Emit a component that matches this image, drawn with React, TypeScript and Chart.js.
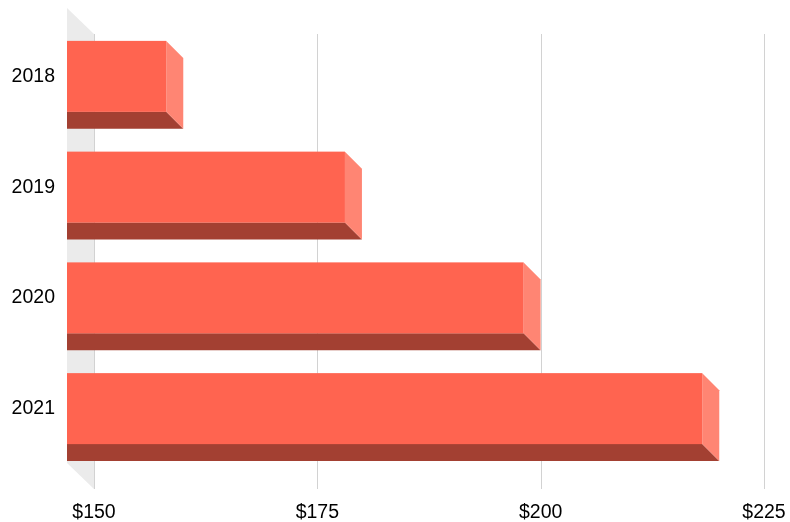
import React, { useEffect, useRef } from 'react';
import { Chart, registerables } from 'chart.js';

Chart.register(...registerables);

const categories = ['2018', '2019', '2020', '2021'];
const values = [161, 181, 201, 221];
const xTickValues = [150, 175, 200, 225];
const xMin = 150;
const xMax = 225;

const FRONT = '#FF6450';
const SIDE = '#FF8573';
const BOTTOM = '#A34032';
const WALL = '#EBEBEB';
const GRID = '#D2D2D2';
const DX = 27; // chart depth (x)
const BD = 17; // bar depth

const zeroPad = (scale: any) => {
  scale.paddingTop = 0;
  scale.paddingBottom = 0;
  scale.paddingLeft = 0;
  scale.paddingRight = 0;
};

const threeD = {
  id: 'threeD',
  beforeDatasetsDraw(chart: any) {
    const { ctx, chartArea } = chart;
    const x = chart.scales.x;
    const xl = x.getPixelForValue(xMin);
    ctx.save();
    ctx.fillStyle = WALL;
    ctx.beginPath();
    ctx.moveTo(xl - DX, chartArea.top - 13);
    ctx.lineTo(xl, chartArea.top + 13);
    ctx.lineTo(xl, chartArea.bottom + 25);
    ctx.lineTo(xl - DX, chartArea.bottom - 1);
    ctx.closePath();
    ctx.fill();
    ctx.strokeStyle = GRID;
    ctx.lineWidth = 1;
    xTickValues.forEach((t) => {
      const px = Math.round(x.getPixelForValue(t)) + 0.5;
      ctx.beginPath();
      ctx.moveTo(px, chartArea.top + 13);
      ctx.lineTo(px, chartArea.bottom + 25);
      ctx.stroke();
    });
    ctx.restore();
  },
  afterDatasetsDraw(chart: any) {
    const { ctx } = chart;
    const x = chart.scales.x;
    const meta = chart.getDatasetMeta(0);
    const base = x.getPixelForValue(xMin) - DX;
    ctx.save();
    meta.data.forEach((el: any, i: number) => {
      const { y, height } = el.getProps(['y', 'height'], true);
      const right = x.getPixelForValue(values[i]) - DX + 1;
      const top = y - height / 2;
      const bot = y + height / 2;
      // bottom face
      ctx.fillStyle = BOTTOM;
      ctx.beginPath();
      ctx.moveTo(base, bot);
      ctx.lineTo(right, bot);
      ctx.lineTo(right + BD, bot + BD);
      ctx.lineTo(base, bot + BD);
      ctx.closePath();
      ctx.fill();
      // side face
      ctx.fillStyle = SIDE;
      ctx.beginPath();
      ctx.moveTo(right, top);
      ctx.lineTo(right + BD, top + BD);
      ctx.lineTo(right + BD, bot + BD);
      ctx.lineTo(right, bot);
      ctx.closePath();
      ctx.fill();
      // front face
      ctx.fillStyle = FRONT;
      ctx.fillRect(base, top, right - base, bot - top);
    });
    ctx.restore();
  },
};

export default function App() {
  const ref = useRef<HTMLCanvasElement>(null);
  useEffect(() => {
    if (!ref.current) return;
    const font = { family: '"Liberation Sans", Arial, sans-serif', size: 19.5 };
    const chart = new Chart(ref.current, {
      type: 'bar',
      data: {
        labels: categories,
        datasets: [
          {
            data: values,
            backgroundColor: 'rgba(0,0,0,0)',
            borderWidth: 0,
            barPercentage: 0.641,
            categoryPercentage: 1,
          },
        ],
      },
      options: {
        indexAxis: 'y',
        animation: false,
        responsive: false,
        devicePixelRatio: 1,
        layout: { padding: { top: 21, right: 26, left: 0, bottom: 0 } },
        plugins: { legend: { display: false }, tooltip: { enabled: false } },
        scales: {
          x: {
            type: 'linear',
            min: xMin,
            max: xMax,
            afterBuildTicks: (scale: any) => {
              scale.ticks = xTickValues.map((v) => ({ value: v }));
            },
            afterFit: (scale: any) => {
              scale.height = 58;
              zeroPad(scale);
            },
            grid: { display: false, drawTicks: false },
            border: { display: false },
            ticks: {
              padding: 37,
              color: '#000',
              font,
              callback: (v: any) => '$' + v,
            },
          },
          y: {
            type: 'category',
            afterFit: (scale: any) => {
              scale.width = 94;
              zeroPad(scale);
            },
            grid: { display: false, drawTicks: false },
            border: { display: false },
            ticks: { padding: 39, color: '#000', font },
          },
        },
      },
      plugins: [threeD],
    });
    return () => chart.destroy();
  }, []);
  return (
    <div style={{ position: 'fixed', left: 0, top: 0, width: 790, height: 522, background: '#fff' }}>
      <canvas ref={ref} width={790} height={522} />
    </div>
  );
}
